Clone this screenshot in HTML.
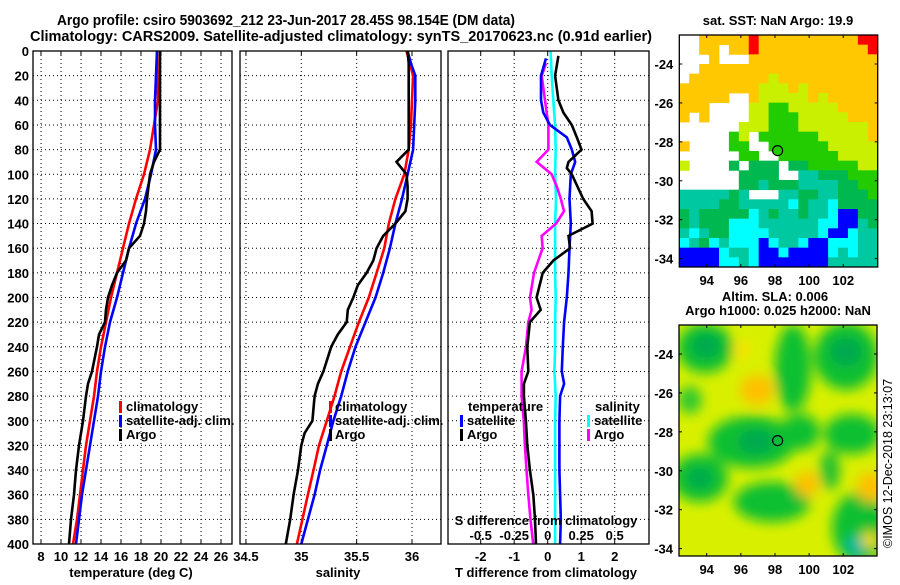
<!DOCTYPE html>
<html><head><meta charset="utf-8"><style>
html,body{margin:0;padding:0;background:#fff;}
svg text{font-family:"Liberation Sans",Arial,sans-serif;font-weight:bold;font-size:13px;fill:#000;}
</style></head><body>
<svg id="fig" width="900" height="580" viewBox="0 0 900 580" xmlns="http://www.w3.org/2000/svg">
<defs>
<filter id="blur" x="-50%" y="-50%" width="200%" height="200%"><feGaussianBlur stdDeviation="6"/></filter>
<clipPath id="clipB"><rect x="679" y="325" width="198" height="231"/></clipPath>
</defs>
<text x="57" y="25" textLength="458" lengthAdjust="spacingAndGlyphs" style="font-size:14.5px">Argo profile: csiro 5903692_212 23-Jun-2017 28.45S 98.154E (DM data)</text>
<text x="30" y="41" textLength="622" lengthAdjust="spacingAndGlyphs" style="font-size:14.5px">Climatology: CARS2009. Satellite-adjusted climatology: synTS_20170623.nc (0.91d earlier)</text>
<text x="778" y="25" text-anchor="middle">sat. SST: NaN Argo: 19.9</text>
<g id="panels"></g>
<g id="topmap"></g>
<g id="botmap"></g>
<text x="775" y="301" text-anchor="middle">Altim. SLA: 0.006</text>
<text x="778" y="315" text-anchor="middle">Argo h1000: 0.025 h2000: NaN</text>
<text x="0" y="0" transform="translate(892,548) rotate(-90)" style="font-weight:normal;font-size:12.5px">©IMOS 12-Dec-2018 23:13:07</text>
</svg>
<script>
// ---------- data ----------
const depthTicks = [0,20,40,60,80,100,120,140,160,180,200,220,240,260,280,300,320,340,360,380,400];
const tempTicks = [8,10,12,14,16,18,20,22,24,26];
const salTicks = [34.5,35,35.5,36];
const salTickLabels = ["34.5","35","35.5","36"];
const tdiffTicks = [-2,-1,0,1,2];
const sdiffTicks = [-0.5,-0.25,0,0.25,0.5];
const sdiffTickLabels = ["-0.5","-0.25","0","0.25","0.5"];

const stdDepth = [0,20,40,60,80,100,120,140,160,180,200,220,240,260,280,300,320,340,360,380,400];
const tempClim = [19.6,19.65,19.7,19.3,18.9,18.3,17.5,16.8,16.2,15.6,15.0,14.5,14.0,13.6,13.3,12.9,12.5,12.2,11.9,11.6,11.2];
const tempSat  = [19.6,19.5,19.4,19.4,19.5,19.0,18.4,17.5,16.8,16.2,15.6,14.9,14.4,14.0,13.7,13.3,12.9,12.5,12.1,11.8,11.5];
const argoTDepth = [0,40,80,90,100,120,130,140,150,160,170,180,190,200,210,220,230,240,260,270,280,300,320,340,360,380,400];
const tempArgo = [19.9,19.9,19.9,19.3,18.9,18.6,18.5,18.3,17.9,16.8,16.5,15.6,15.1,14.7,14.5,14.4,13.8,13.6,13.1,12.7,12.5,12.2,11.8,11.5,11.3,11.0,10.8];

const salDepth = [0,10,20,40,60,80,100,120,140,160,180,200,220,240,260,280,300,320,340,360,380,400];
const salClim = [35.95,35.98,36.01,36.0,35.99,35.97,35.93,35.85,35.79,35.75,35.68,35.61,35.52,35.44,35.36,35.30,35.23,35.16,35.11,35.06,35.01,34.96];
const salSat  = [35.96,35.99,36.03,36.03,36.02,36.01,35.96,35.91,35.85,35.80,35.74,35.67,35.58,35.49,35.42,35.36,35.29,35.23,35.17,35.12,35.06,35.0];
const argoSDepth = [0,10,20,80,90,100,110,120,130,140,150,160,170,180,190,200,210,220,230,240,260,270,280,300,310,320,340,360,380,400];
const salArgo = [35.96,35.97,35.97,35.97,35.86,35.95,35.96,35.96,35.94,35.85,35.74,35.68,35.65,35.59,35.51,35.47,35.42,35.41,35.33,35.27,35.20,35.15,35.12,35.10,35.03,35.0,34.97,34.93,34.90,34.86];

const dTSatDepth = [6,20,40,50,60,70,80,90,100,120,140,160,180,200,220,240,260,270,280,300,320,340,360,380,400];
const dTSat = [-0.05,-0.2,-0.2,-0.13,0.07,0.57,0.72,0.82,0.69,0.65,0.69,0.65,0.62,0.57,0.49,0.45,0.42,0.49,0.37,0.35,0.35,0.35,0.37,0.39,0.37];
const dTArgoDepth = [4,20,40,50,60,70,80,90,95,100,120,130,140,150,160,170,180,200,210,220,240,260,270,280,300,320,340,360,380,400];
const dTArgo = [0.32,0.22,0.32,0.47,0.72,0.87,1.01,0.62,0.57,0.72,1.06,1.31,1.34,0.62,0.67,0.17,-0.15,-0.33,-0.21,-0.53,-0.61,-0.58,-0.71,-0.71,-0.65,-0.61,-0.53,-0.43,-0.38,-0.35];
const dSSatDepth = [0,20,40,60,80,100,120,140,160,180,200,220,240,260,280,300,320,340,360,380,400];
const dSSat = [0.022,0.03,0.042,0.055,0.06,0.055,0.062,0.055,0.055,0.055,0.06,0.055,0.055,0.05,0.06,0.055,0.055,0.055,0.055,0.055,0.055];
const dSArgoDepth = [10,20,40,60,80,90,100,110,120,130,140,150,160,170,180,200,210,220,240,260,280,300,320,340,360,380,400];
const dSArgo = [-0.012,-0.045,-0.02,0.005,0.005,-0.082,0.03,0.068,0.098,0.122,0.062,-0.045,-0.038,-0.07,-0.102,-0.132,-0.12,-0.145,-0.162,-0.195,-0.195,-0.178,-0.17,-0.158,-0.145,-0.128,-0.108];

// ---------- drawing ----------
const NS="http://www.w3.org/2000/svg";
const panels=document.getElementById('panels');
function mk(tag,attrs,parent){const e=document.createElementNS(NS,tag);for(const k in attrs)e.setAttribute(k,attrs[k]);(parent||panels).appendChild(e);return e;}
const TOP=51,BOT=544;
const yD=d=>TOP+d*(BOT-TOP)/400;
const xT=t=>41+(t-8)*10;
const xS=s=>301.3+(s-35)*110.7;
const xDT=t=>547.7+t*33.5;
const xDS=s=>547.7+s*134;

function frame(x0,x1,name){
  const g=mk('g',{});
  
  
  depthTicks.forEach(d=>{
    const l=mk('line',{x1:x0,x2:x1,y1:yD(d),y2:yD(d),stroke:'#000','stroke-width':1,'stroke-dasharray':'1,3'},g);
    
    
  });
  return g;
}
function vgrid(g,x){
  const l=mk('line',{x1:x,x2:x,y1:TOP,y2:BOT,stroke:'#000','stroke-width':1,'stroke-dasharray':'1,3'},g);
  
  
  mk('line',{x1:x,x2:x,y1:TOP,y2:TOP+4,stroke:'#000'},g);
  mk('line',{x1:x,x2:x,y1:BOT,y2:BOT-4,stroke:'#000'},g);
}
function border(g,x0,x1){
  const r=mk('rect',{x:x0,y:TOP,width:x1-x0,height:BOT-TOP,fill:'none',stroke:'#000','stroke-width':1.3},g);
  
  
}
function line(g,xs,ys,fx,color,name){
  const pts=xs.map((v,i)=>fx(v).toFixed(1)+','+yD(ys[i]).toFixed(1)).join(' ');
  const p=mk('polyline',{points:pts,fill:'none',stroke:color,'stroke-width':2.6,'stroke-linejoin':'miter'},g);
  
  
}
function txt(g,x,y,s,anchor,name,extra){
  const t=mk('text',Object.assign({x:x,y:y,'text-anchor':anchor||'start'},extra||{}),g);
  t.textContent=s;
  
  
  return t;
}
function legendMark(g,x,y,color){
  const r=mk('rect',{x:x,y:y-10,width:3,height:12,fill:color},g);
  
  
}

// panel 1: temperature
let g=frame(33,232,'temperature-panel');
tempTicks.forEach(t=>{vgrid(g,xT(t));txt(g,xT(t),561,String(t),'middle','temperature-tick-label');});
depthTicks.forEach(d=>txt(g,29,yD(d)+5,String(d),'end','depth-tick-label'));
line(g,tempClim,stdDepth,xT,'#ff0000','temperature-climatology-line');
line(g,tempSat,stdDepth,xT,'#0000ff','temperature-satellite-line');
line(g,tempArgo,argoTDepth,xT,'#000000','temperature-argo-line');
border(g,33,232);
txt(g,131,577,'temperature (deg C)','middle','temperature-axis-title');
[['climatology','#ff0000',411],['satellite-adj. clim.','#0000ff',425],['Argo','#000',439]].forEach(a=>{legendMark(g,119,a[2],a[1]);txt(g,126,a[2],a[0],'start','temperature-legend-entry');});

// panel 2: salinity
g=frame(240,441,'salinity-panel');
salTicks.forEach((s,i)=>{vgrid(g,xS(s));txt(g,xS(s),561,salTickLabels[i],'middle','salinity-tick-label');});
line(g,salClim,salDepth,xS,'#ff0000','salinity-climatology-line');
line(g,salSat,salDepth,xS,'#0000ff','salinity-satellite-line');
line(g,salArgo,argoSDepth,xS,'#000000','salinity-argo-line');
border(g,240,441);
txt(g,338,577,'salinity','middle','salinity-axis-title');
[['climatology','#ff0000',411],['satellite-adj. clim.','#0000ff',425],['Argo','#000',439]].forEach(a=>{legendMark(g,329,a[2],a[1]);txt(g,335,a[2],a[0],'start','salinity-legend-entry');});

// panel 3: differences
g=frame(448,649,'difference-panel');
tdiffTicks.forEach(t=>{vgrid(g,xDT(t));txt(g,xDT(t),561,String(t),'middle','t-difference-tick-label');});
line(g,dSSat,dSSatDepth,xDS,'#00ffff','salinity-diff-satellite-line');
line(g,dSArgo,dSArgoDepth,xDS,'#ff00ff','salinity-diff-argo-line');
line(g,dTSat,dTSatDepth,xDT,'#0000ff','temperature-diff-satellite-line');
line(g,dTArgo,dTArgoDepth,xDT,'#000000','temperature-diff-argo-line');
border(g,448,649);
txt(g,546,577,'T difference from climatology','middle','t-difference-axis-title');
txt(g,546,525,'S difference from climatology','middle','s-difference-axis-title');
sdiffTicks.forEach((s,i)=>txt(g,xDS(s),540,sdiffTickLabels[i],'middle','s-difference-tick-label'));
txt(g,468,411,'temperature','start','diff-legend-temperature-title');
legendMark(g,460,425,'#0000ff');txt(g,467,425,'satellite','start','diff-legend-entry');
legendMark(g,460,439,'#000');txt(g,467,439,'Argo','start','diff-legend-entry');
txt(g,595,411,'salinity','start','diff-legend-salinity-title');
legendMark(g,587,425,'#00ffff');txt(g,594,425,'satellite','start','diff-legend-entry');
legendMark(g,587,439,'#ff00ff');txt(g,594,439,'Argo','start','diff-legend-entry');

// ---------- maps ----------
const lonTicks=[94,96,98,100,102];
const latTicks=[-24,-26,-28,-30,-32,-34];
const argoLon=98.154, argoLat=-28.45;
const sstGrid=[
"WWOOOOOROOOOOOOOOORR",
"WWOOWOOROOOOOOOOOOOR",
"WWWOWWWOOOOOOOOOOOOO",
"WWOOOOOOOOOOOOOOOOOO",
"WOOOOOOOOLOOOOOOOOOO",
"OOOOOOOOLLLOLOOOOOOO",
"OOOOOWWOLLLLLOLOOOOO",
"OOOWWWWLLGGLLLLLOOOO",
"OWOWWWWLLGGGLLLLLOOO",
"WWWWWWLLLGGGLLLLLLLO",
"WWWWWGLWGGGGGGLLLLLO",
"OWWWWGGWWGGGGGGLLLLL",
"WWWWWWGGWWGGGGGGLLLL",
"LWWWWDWDDDWDDGGGGGLL",
"WWWWWWDDDDWWTTDDDGGG",
"WWWWWWDDTDDDTTTTDDGG",
"TTTTTDTWWWTTDDTTDDDG",
"TTTTDDTTTTTCDTTCDDDD",
"DTDDDDDCTDTTDTTCBBDD",
"DTDDDCCCTTTTTTCCBBTD",
"TCTDDCCCCTTTTTCBBCTT",
"CTDCTCCCBCTTCBBCCCTT",
"BBBBCTTCBBCBBBBCTCTT",
"BBBBCCTCBBBBBBBTTTTT"];
const sstColors={W:'#ffffff',O:'#ffc800',L:'#c8f000',G:'#22cc00',D:'#00b850',T:'#00c8a0',C:'#00ffff',B:'#0000ff',R:'#ff0000'};

function mapAxes(gm,x0,y0,x1,y1,latRef,prefix){
  const xL=lon=>706.7+(lon-94)*17.07;
  const yL=lat=>latRef+(-24-lat)*19.46;
  lonTicks.forEach(l=>{
    mk('line',{x1:xL(l),x2:xL(l),y1:y1,y2:y1-3,stroke:'#000'},gm);
    mk('line',{x1:xL(l),x2:xL(l),y1:y0,y2:y0+3,stroke:'#000'},gm);
    txt(gm,xL(l),y1+18,String(l),'middle',prefix+'-lon-tick-label');
  });
  latTicks.forEach(l=>{
    mk('line',{x1:x0,x2:x0+3,y1:yL(l),y2:yL(l),stroke:'#000'},gm);
    mk('line',{x1:x1,x2:x1-3,y1:yL(l),y2:yL(l),stroke:'#000'},gm);
    txt(gm,x0-6,yL(l)+5,String(l),'end',prefix+'-lat-tick-label');
  });
  const r=mk('rect',{x:x0,y:y0,width:x1-x0,height:y1-y0,fill:'none',stroke:'#000','stroke-width':1.3},gm);
  
  
  const c=mk('circle',{cx:xL(argoLon),cy:yL(argoLat),r:5,fill:prefix==='sst'?'#22cc00':'none',stroke:'#000','stroke-width':1.2},gm);
  
  
}

const tm=document.getElementById('topmap');
{
  const X0=679.3,Y0=35,X1=877.7,Y1=267;
  const cw=(X1-X0)/20, ch=(Y1-Y0)/24;
  sstGrid.forEach((row,r)=>{[...row].forEach((k,c)=>{
    if(k==='W')return;
    mk('rect',{x:(X0+c*cw).toFixed(2),y:(Y0+r*ch).toFixed(2),width:(cw+0.4).toFixed(2),height:(ch+0.4).toFixed(2),fill:sstColors[k]},tm);
  });});
  mapAxes(tm,X0,Y0,X1,Y1,64,'sst');
}

const bm=document.getElementById('botmap');
{
  const X0=679,Y0=325,X1=877,Y1=556;
  const cg=mk('g',{'clip-path':'url(#clipB)'},bm);
  mk('rect',{x:X0,y:Y0,width:X1-X0,height:Y1-Y0,fill:'#d8f000'},cg);
  const fg=mk('g',{filter:'url(#blur)'},cg);
  const blobs=[
    [705,348,28,25,'#10c030'],[793,368,18,44,'#10c030'],[846,356,32,34,'#10c030'],
    [752,442,44,26,'#10c030'],[800,432,20,18,'#10c030'],[852,434,28,20,'#10c030'],
    [700,478,28,24,'#10c030'],[772,502,38,20,'#10c030'],[860,528,28,36,'#10c030'],
    [690,400,12,14,'#30c830'],[830,470,10,20,'#20c030'],
    [706,346,14,12,'#00a850'],[846,352,16,14,'#00a850'],[756,442,18,12,'#00a850'],[700,478,12,10,'#00a850'],[856,546,10,10,'#00b8a0'],
    [757,390,17,15,'#ffc000'],[807,484,12,13,'#ffc000'],[870,487,13,15,'#ffc000'],[742,350,8,8,'#ffe000'],[870,540,8,8,'#ffe000']];
  blobs.forEach(b=>mk('ellipse',{cx:b[0],cy:b[1],rx:b[2],ry:b[3],fill:b[4]},fg));
  mapAxes(bm,X0,Y0,X1,Y1,354,'sla');
}
</script>
</body></html>
